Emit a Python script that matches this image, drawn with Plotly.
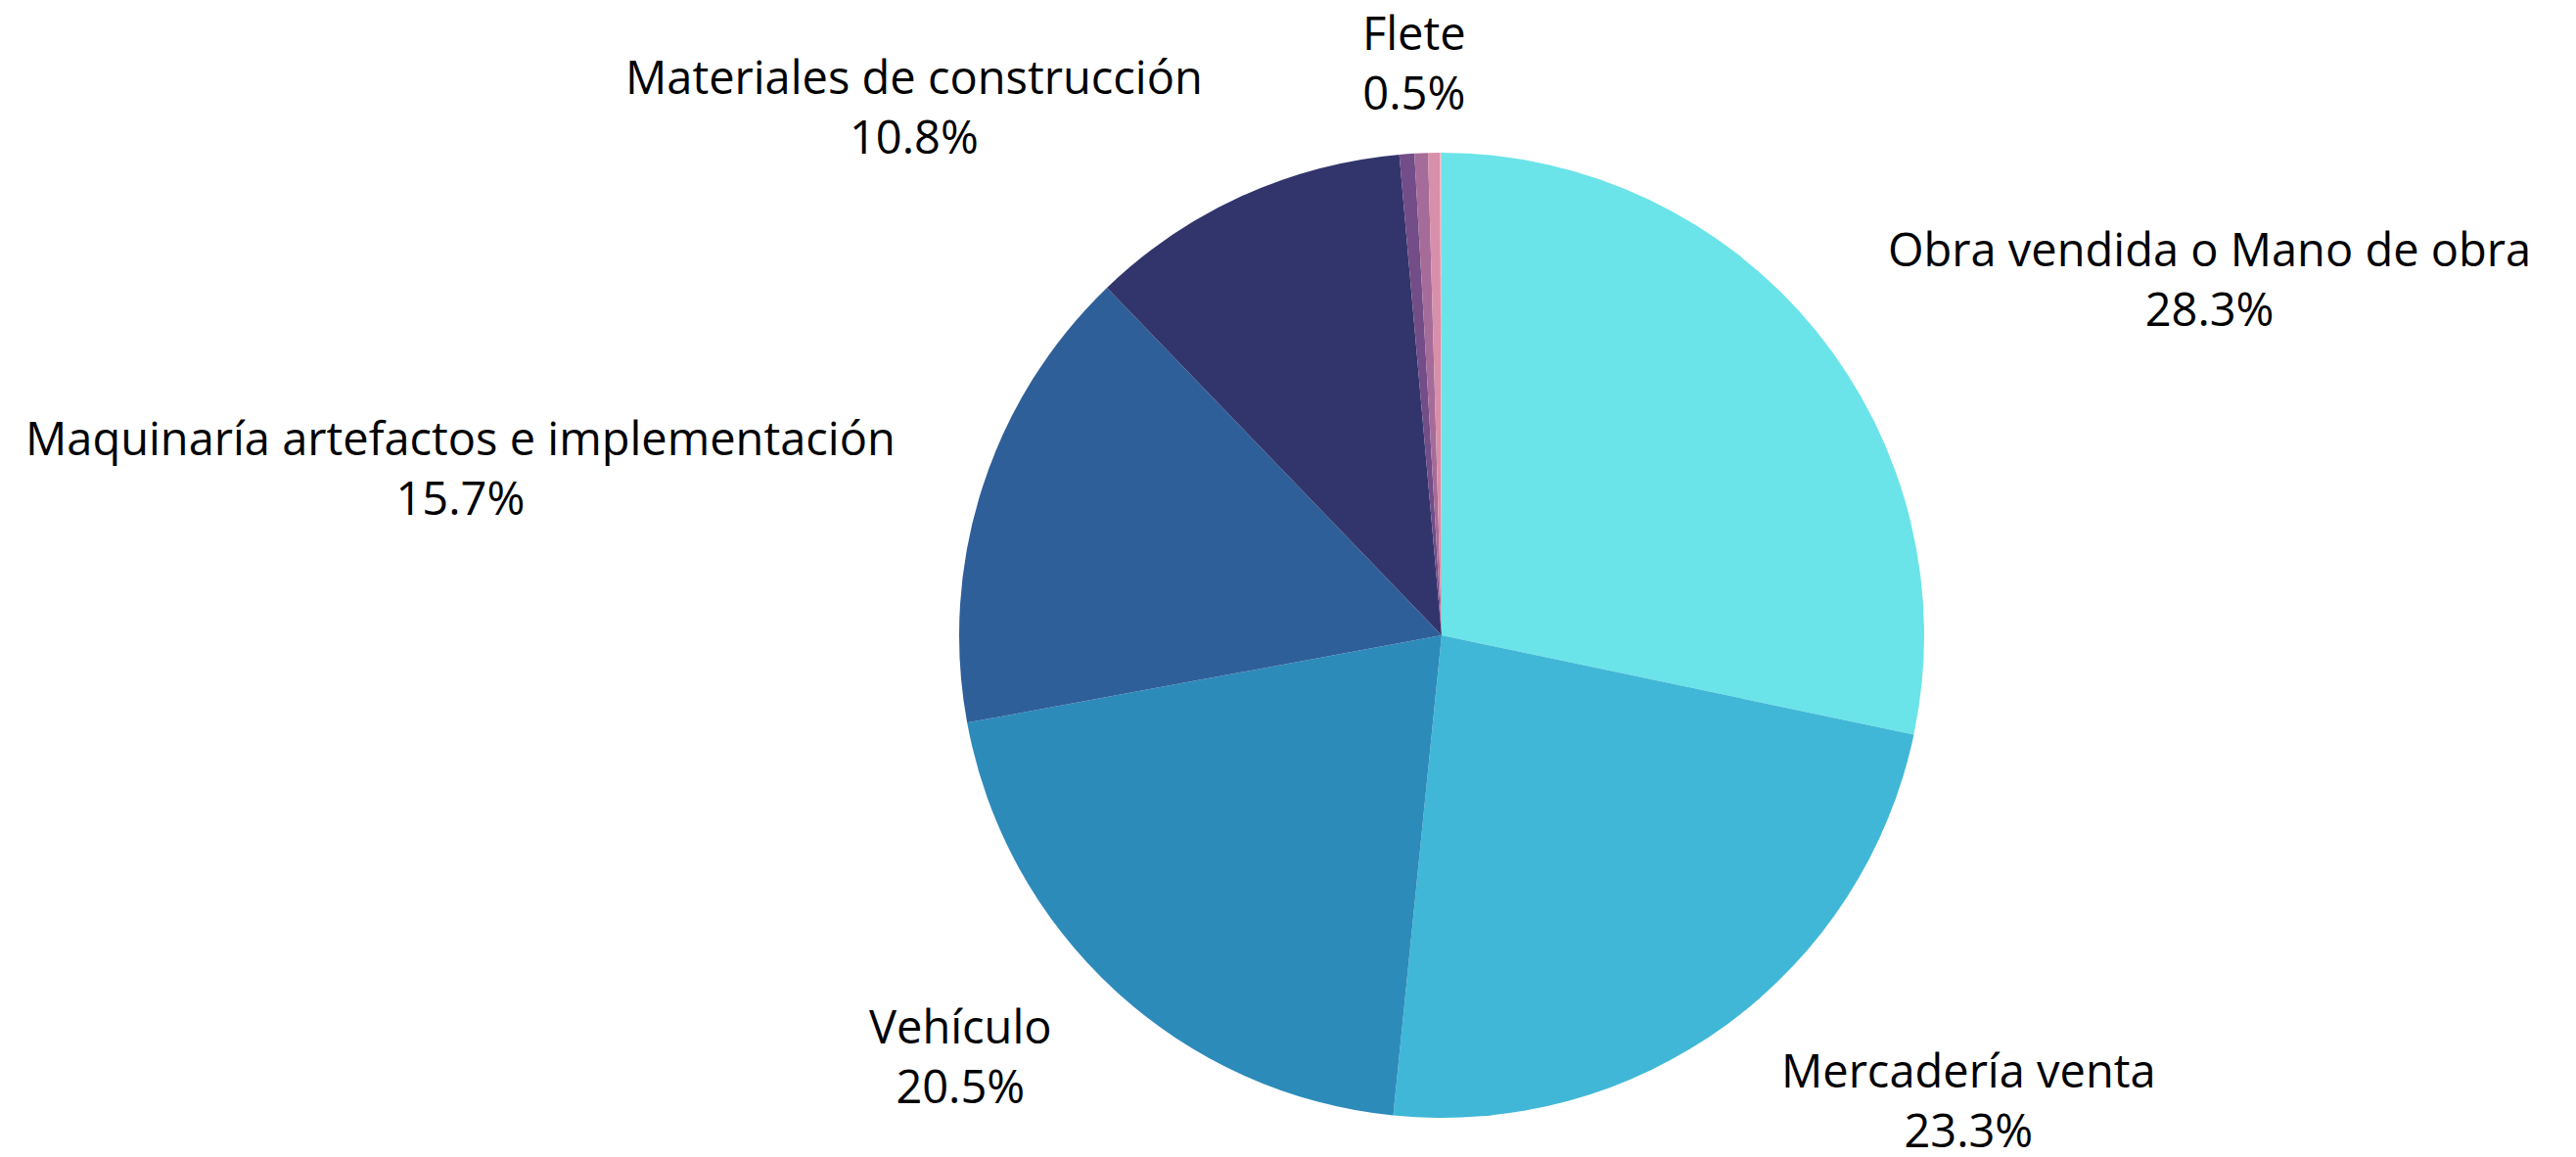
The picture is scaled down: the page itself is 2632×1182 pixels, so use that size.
import math
import plotly.graph_objects as go

labels = ["Obra vendida o Mano de obra", "Mercadería venta", "Vehículo",
          "Maquinaría artefactos e implementación", "Materiales de construcción",
          "Flete", "Servicios", "Otros", "Combustible"]
values = [28.3, 23.3, 20.5, 15.7, 10.8, 0.5, 0.45, 0.4, 0.05]
show_label = [True, True, True, True, True, True, False, False, False]
colors = ["#6ae4e9", "#41b7d7", "#2d8bba", "#2f5f98", "#31356b",
          "#724d87", "#a56c99", "#d88fa9", "#f3b8c6"]

W, H = 2632, 1182
ML, MR, MT, MB = 298, 0, 148, 48
PW, PH = W - ML - MR, H - MT - MB
R = min(PW, PH) / 2
CX, CY = ML + PW / 2, MT + PH / 2
FONT = dict(family="Open Sans", size=47, color="#000000")

fig = go.Figure(go.Pie(
    labels=labels, values=values, sort=False, direction="clockwise", rotation=0,
    marker=dict(colors=colors, line=dict(width=0)),
    textinfo="none", showlegend=False, hoverinfo="label+percent",
))

total = sum(values)
cum = 0.0
for lab, v, show in zip(labels, values, show_label):
    mid = (cum + v / 2) / total * 2 * math.pi
    cum += v
    if not show:
        continue
    sx, sy = math.sin(mid), -math.cos(mid)
    if abs(sx) < 0.2:
        xanchor = "center"
        px = CX + 0.8 * R * sx
        py = CY + 1.1 * R * sy + math.copysign(45, sy) * sy * sy
    else:
        px = CX + 1.1 * R * sx + 42 * sx
        xanchor = "left" if sx > 0 else "right"
        py = CY + 1.1 * R * sy + math.copysign(57, sy) * sy * sy
    fig.add_annotation(
        x=(px - ML) / PW, y=1 - (py - MT) / PH, xref="paper", yref="paper",
        text=f"{lab}<br>{v / total * 100:.1f}%", showarrow=False,
        xanchor=xanchor, yanchor="middle", align="center", font=FONT,
    )

fig.update_layout(
    width=W, height=H,
    margin=dict(l=ML, r=MR, t=MT, b=MB, autoexpand=False),
    paper_bgcolor="white", plot_bgcolor="white",
)
fig.update_traces(automargin=False)
fig.write_html("out.html")
